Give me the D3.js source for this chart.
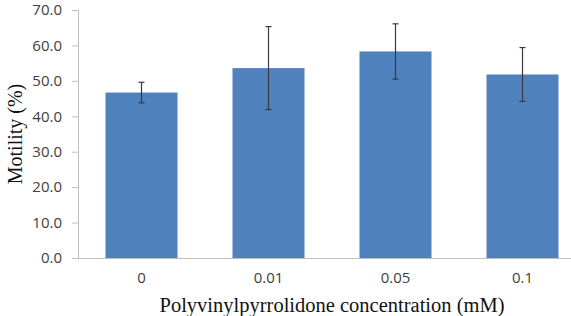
<!DOCTYPE html>
<html>
<head>
<meta charset="utf-8">
<script src="https://cdn.jsdelivr.net/npm/d3@7"></script>
<style>
  body { margin: 0; background: #fff; }
  .tick text { font-family: "Open Sans", sans-serif; fill: #404040; }
  .title { font-family: "Liberation Serif", "Times New Roman", serif; fill: #111; }
</style>
</head>
<body>
<svg id="chart"></svg>
<script>
const categories = ["0", "0.01", "0.05", "0.1"];
const motility = [46.7, 53.6, 58.3, 51.8];
const errors = [2.9, 11.7, 7.8, 7.6];
const yTicks = [0, 10, 20, 30, 40, 50, 60, 70];

const width = 571, height = 316;
const margin = { top: 10, right: -15, bottom: 58, left: 78 };

const svg = d3.select("#chart")
    .attr("width", width)
    .attr("height", height);

const x = d3.scaleBand()
    .domain(categories)
    .range([margin.left, width - margin.right])
    .paddingInner(0.433)
    .paddingOuter(0.2165);

const y = d3.scaleLinear()
    .domain([0, 70])
    .range([height - margin.bottom, margin.top]);

// y axis
const yAxis = svg.append("g")
    .attr("transform", `translate(${margin.left},0)`)
    .call(d3.axisLeft(y)
        .tickValues(yTicks)
        .tickFormat(d3.format(".1f"))
        .tickSize(6)
        .tickPadding(10));
yAxis.selectAll("line, path").attr("stroke", "#bfbfbf");
yAxis.selectAll("text").attr("font-size", 15);

// bars
svg.selectAll("rect.bar")
    .data(categories)
    .join("rect")
        .classed("bar", true)
        .attr("x", d => x(d))
        .attr("width", x.bandwidth())
        .attr("y", (d, i) => y(motility[i]))
        .attr("height", (d, i) => y(0) - y(motility[i]))
        .attr("fill", "#4f81bd");

// x axis
const xAxis = svg.append("g")
    .attr("transform", `translate(0,${y(0)})`)
    .call(d3.axisBottom(x).tickSize(0).tickPadding(14));
xAxis.select("path").attr("stroke", "#bfbfbf").attr("stroke-width", 1.2);
xAxis.selectAll("text").attr("font-size", 15);

// error bars
const err = svg.append("g")
    .attr("stroke", "#3a3a3a")
    .attr("stroke-width", 1.2);

categories.forEach((c, i) => {
    const cx = x(c) + x.bandwidth() / 2;
    const hi = y(motility[i] + errors[i]);
    const lo = y(motility[i] - errors[i]);
    err.append("line").attr("x1", cx).attr("x2", cx).attr("y1", hi).attr("y2", lo);
    err.append("line").attr("x1", cx - 3).attr("x2", cx + 3).attr("y1", hi).attr("y2", hi);
    err.append("line").attr("x1", cx - 3).attr("x2", cx + 3).attr("y1", lo).attr("y2", lo);
});

// axis titles
svg.append("text")
    .classed("title", true)
    .attr("x", (margin.left + width - margin.right) / 2)
    .attr("y", 312)
    .attr("text-anchor", "middle")
    .attr("font-size", 20.5)
    .text("Polyvinylpyrrolidone concentration (mM)");

svg.append("text")
    .classed("title", true)
    .attr("transform", `translate(22,${(y(0) + y(70)) / 2}) rotate(-90)`)
    .attr("text-anchor", "middle")
    .attr("font-size", 20)
    .text("Motility (%)");
</script>
</body>
</html>
